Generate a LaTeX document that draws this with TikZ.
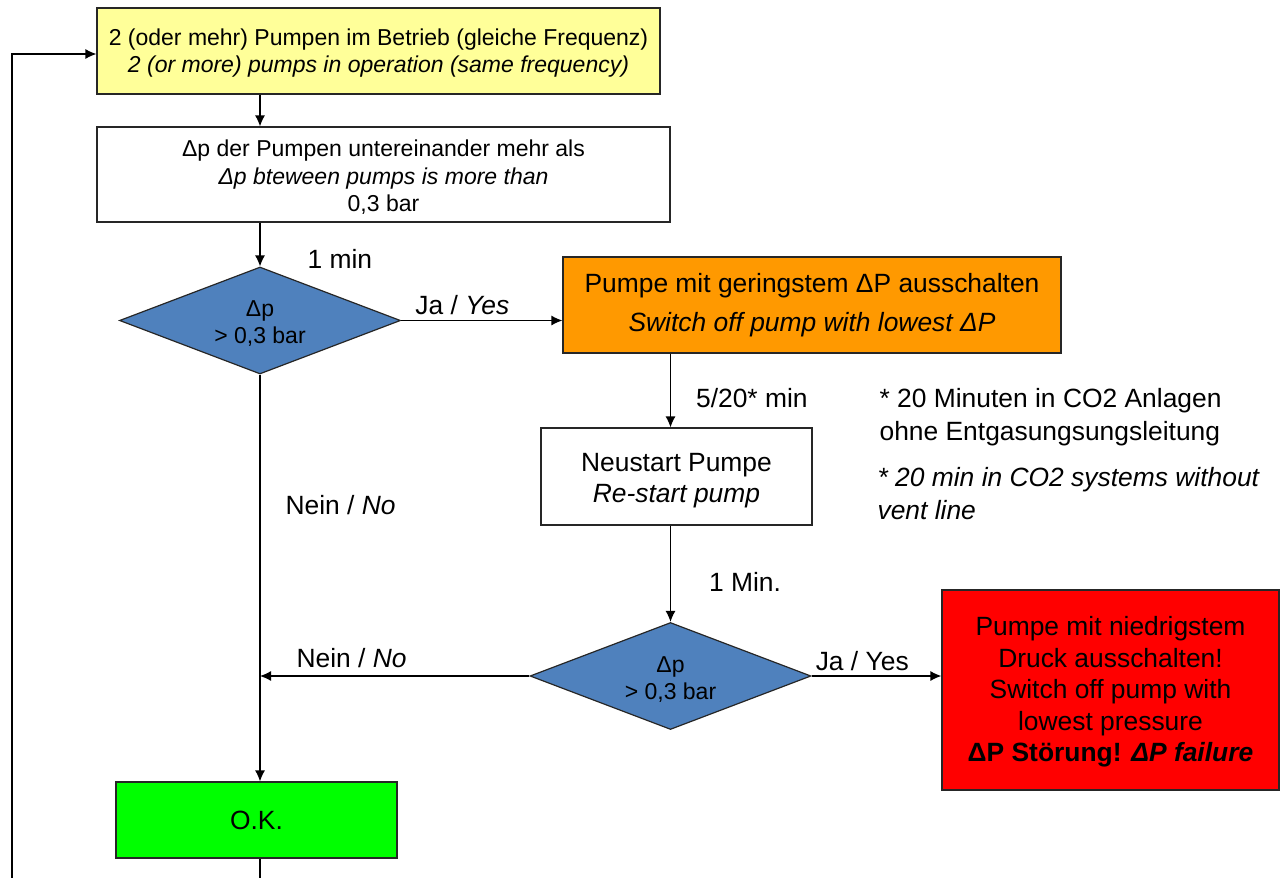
\documentclass[tikz,border=0pt]{standalone}
\usepackage{fontspec}
\setmainfont{Liberation Sans}
\usetikzlibrary{arrows.meta,shapes.geometric,positioning}
\definecolor{runyellow}{HTML}{FFFF99}
\definecolor{askblue}{HTML}{4F81BD}
\definecolor{offorange}{HTML}{FF9900}
\definecolor{failred}{HTML}{FF0000}
\definecolor{okgreen}{HTML}{00FF00}
\newcommand\fsmall{\fontsize{11.5}{13.5}\selectfont}
\newcommand\fbig{\fontsize{13.2}{16}\selectfont}
\newcommand\topstrut[1]{\rule{0pt}{#1}}
\tikzset{
    >={Latex[length=5.5pt,width=5pt]},
    box/.style={draw=black!85,rectangle,align=center,inner sep=0pt},
    ask/.style={draw=black!85,diamond,aspect=2.63,fill=askblue,align=center,inner sep=0pt,
        minimum width=140.5pt,minimum height=53.5pt,font=\fontsize{11.5}{13.5}\selectfont},
    lbl/.style={inner sep=0pt,font=\fbig},
}

\begin{document}
\begin{tikzpicture}[x=0.5pt,y=-0.5pt,line width=0.6pt]
            \useasboundingbox (0,0) rectangle (1287,878);

            \node[box,fill=runyellow,minimum width=281.5pt,minimum height=43pt,font=\fsmall] (run) at (378.5,51)
                {\topstrut{10.6pt}2 (oder mehr) Pumpen im Betrieb (gleiche Frequenz)\\ \textit{2 (or more) pumps in operation (same frequency)}};
            \node[box,minimum width=286.5pt,minimum height=47.5pt,font=\fontsize{11.5}{13.9}\selectfont] (check) at (383.5,174.5)
                {\topstrut{11pt}Δp der Pumpen untereinander mehr als\\ \textit{Δp bteween pumps is more than}\\ 0,3 bar};
            \node[ask] (test) at (260,320.5) {\topstrut{10.8pt}Δp\\ > 0,3 bar};
            \node[box,fill=offorange,minimum width=249pt,minimum height=48pt,font=\fontsize{13.2}{19.2}\selectfont] (off) at (812,305)
                {Pumpe mit geringstem ΔP ausschalten\\ \textit{Switch off pump with lowest ΔP}};
            \node[box,minimum width=135.5pt,minimum height=48.5pt,font=\fontsize{13.2}{15.5}\selectfont] (restart) at (676.5,476.5)
                {\topstrut{13pt}Neustart Pumpe\\ \textit{Re-start pump}};
            \node[ask] (retest) at (670.5,676) {\topstrut{11pt}Δp\\ > 0,3 bar};
            \node[box,fill=failred,minimum width=168.5pt,minimum height=100pt,font=\fontsize{13.2}{15.75}\selectfont] (fail) at (1110.5,690)
                {\topstrut{11.6pt}Pumpe mit niedrigstem\\ Druck ausschalten!\\ Switch off pump with\\ lowest pressure\\ \textbf{ΔP Störung! \textit{ΔP failure}}};
            \node[box,fill=okgreen,minimum width=140.5pt,minimum height=38pt,font=\fbig] (ok) at (256.5,820) {O.K.};

            % notes
            \node[lbl,align=left,anchor=west,font=\fontsize{13.2}{16.5}\selectfont] (notede) at (879,417.5)
                {* 20 Minuten in CO2 Anlagen\\ ohne Entgasungsungsleitung};
            \node[lbl,align=left,anchor=west,font=\fontsize{13.2}{16.5}\selectfont] (noteen) at (877,494)
                {\textit{* 20 min in CO2 systems without}\\ \textit{vent line}};

            \coordinate (loop) at (12,900);

            \draw[->] (run.south -| test.north) -- (check.north -| test.north);
            \draw[->] (check.south -| test.north) -- (test.north)
                node[lbl,pos=0.82,right=23.5pt] {1 min};
            \draw[->] (test.east) -- (test.east -| off.west)
                node[lbl,pos=0.38,above=2.5pt] {Ja / \textit{Yes}};
            \draw[->] (off.south -| retest.north) -- (restart.north -| retest.north)
                node[lbl,pos=0.6,right=12.5pt] {5/20* min};
            \draw[->] (restart.south -| retest.north) -- (retest.north)
                node[lbl,pos=0.58,right=19pt] {1 Min.};
            \draw[->] (retest.east) -- (retest.east -| fail.west)
                node[lbl,pos=0.39,above=2.5pt] {Ja / Yes};
            \draw[->] (retest.west) -- (retest.west -| test.south)
                node[lbl,pos=0.66,above=4pt] {Nein / \textit{No}};
            \draw[->] (test.south) -- (ok.north -| test.south)
                node[lbl,pos=0.32,right=12.5pt] {Nein / \textit{No}};
            \draw[->] (ok.south -| test.south) |- (loop) |- ([yshift=-1.5pt]run.west);
        \end{tikzpicture}
\end{document}
